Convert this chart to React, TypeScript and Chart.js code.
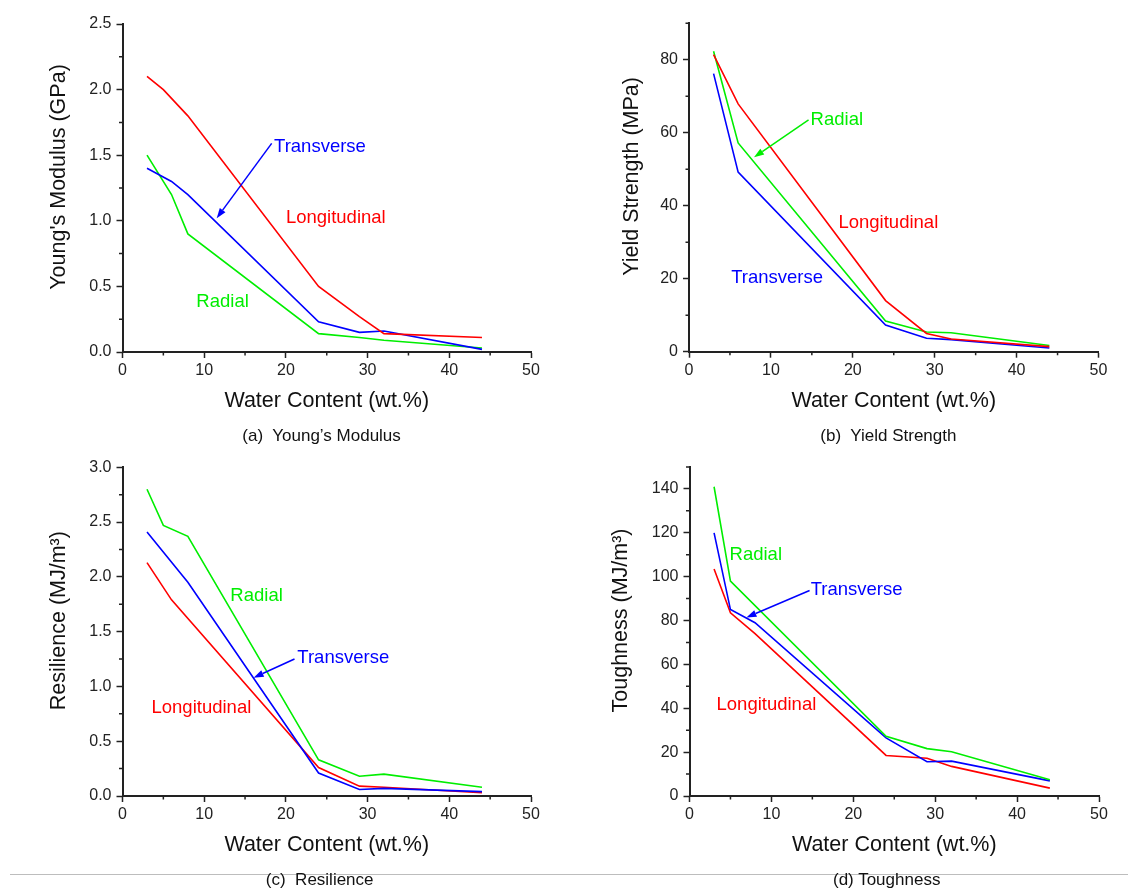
import React, { useEffect, useRef } from 'react';
import { Chart, registerables } from 'chart.js';

Chart.register(...registerables);

const FONT = '"Liberation Sans", Arial, Helvetica, sans-serif';
const RED = '#ff0000';
const BLUE = '#0000ff';
const GREEN = '#00ee00';
const AXIS = '#222222';

// X axis (water content) settings
const xMin = 0;
const xMax = 50;
const xStep = 10;
const xTitle = 'Water Content (wt.%)';

// (a) Young's Modulus (GPa)
const youngLongX = [3, 5, 8, 24, 29, 32, 44];
const youngLongY = [2.1, 2.0, 1.8, 0.5, 0.27, 0.14, 0.11];
const youngTransX = [3, 6, 8, 24, 29, 32, 44];
const youngTransY = [1.4, 1.3, 1.2, 0.23, 0.15, 0.16, 0.02];
const youngRadX = [3, 6, 8, 24, 29, 32, 44];
const youngRadY = [1.5, 1.2, 0.9, 0.14, 0.11, 0.09, 0.03];

// (b) Yield Strength (MPa)
const yieldX = [3, 6, 24, 29, 32, 44];
const yieldLongY = [81.4, 67.9, 14, 5.0, 3.5, 1.4];
const yieldTransY = [76.2, 49.2, 7.3, 3.7, 3.3, 1.0];
const yieldRadY = [82.3, 57.2, 8.4, 5.4, 5.2, 1.7];

// (c) Resilience (MJ/m3)
const resRadX = [3, 5, 8, 24, 29, 32, 44];
const resRadY = [2.8, 2.47, 2.37, 0.33, 0.18, 0.2, 0.08];
const resTransX = [3, 8, 24, 29, 32, 44];
const resTransY = [2.41, 1.95, 0.21, 0.06, 0.07, 0.04];
const resLongX = [3, 6, 24, 29, 32, 44];
const resLongY = [2.13, 1.79, 0.26, 0.09, 0.08, 0.03];

// (d) Toughness (MJ/m3)
const toughRadX = [3, 5, 24, 29, 32, 44];
const toughRadY = [141, 98, 27.2, 21.6, 20.2, 7.4];
const toughTransX = [3, 5, 8, 24, 29, 32, 44];
const toughTransY = [120, 85, 79, 26.5, 15.6, 15.9, 6.9];
const toughLongX = [3, 5, 8, 24, 29, 32, 44];
const toughLongY = [103.5, 83.5, 74, 18.5, 17.2, 13.5, 3.6];

type Series = { x: number[]; y: number[]; color: string };
type Label = { text: string; x: number; y: number; color: string };
type Arrow = { x1: number; y1: number; x2: number; y2: number; color: string };

interface PanelSpec {
  left: number;
  top: number;
  width: number;
  height: number;
  plotLeft: number;
  plotRight: number;
  plotTop: number;
  plotBottom: number;
  yMax: number;
  yStep: number;
  yDecimals: number;
  yTitle: string;
  yTitleOffset: number;
  series: Series[];
  labels: Label[];
  arrows: Arrow[];
}

const panels: PanelSpec[] = [
  {
    left: 0, top: 0, width: 566, height: 444,
    plotLeft: 122.5, plotRight: 531, plotTop: 24, plotBottom: 352,
    yMax: 2.5, yStep: 0.5, yDecimals: 1,
    yTitle: "Young's Modulus (GPa)", yTitleOffset: 63,
    series: [
      { x: youngLongX, y: youngLongY, color: RED },
      { x: youngTransX, y: youngTransY, color: BLUE },
      { x: youngRadX, y: youngRadY, color: GREEN },
    ],
    labels: [
      { text: 'Transverse', x: 18.55, y: 1.56, color: BLUE },
      { text: 'Longitudinal', x: 20.0, y: 1.02, color: RED },
      { text: 'Radial', x: 9.04, y: 0.383, color: GREEN },
    ],
    arrows: [{ x1: 18.26, y1: 1.59, x2: 11.53, y2: 1.02, color: BLUE }],
  },
  {
    left: 566, top: 0, width: 566, height: 444,
    plotLeft: 689, plotRight: 1098.5, plotTop: 23.2, plotBottom: 351.7,
    yMax: 90, yStep: 20, yDecimals: 0,
    yTitle: 'Yield Strength (MPa)', yTitleOffset: 57,
    series: [
      { x: yieldX, y: yieldLongY, color: RED },
      { x: yieldX, y: yieldTransY, color: BLUE },
      { x: yieldX, y: yieldRadY, color: GREEN },
    ],
    labels: [
      { text: 'Radial', x: 14.85, y: 63.5, color: GREEN },
      { text: 'Longitudinal', x: 18.25, y: 35.4, color: RED },
      { text: 'Transverse', x: 5.15, y: 20.3, color: BLUE },
    ],
    arrows: [{ x1: 14.6, y1: 63.5, x2: 7.94, y2: 53.3, color: GREEN }],
  },
  {
    left: 0, top: 444, width: 566, height: 444,
    plotLeft: 122.5, plotRight: 531, plotTop: 467.3, plotBottom: 796,
    yMax: 3.0, yStep: 0.5, yDecimals: 1,
    yTitle: 'Resilience (MJ/m\u00B3)', yTitleOffset: 63,
    series: [
      { x: resRadX, y: resRadY, color: GREEN },
      { x: resTransX, y: resTransY, color: BLUE },
      { x: resLongX, y: resLongY, color: RED },
    ],
    labels: [
      { text: 'Radial', x: 13.2, y: 1.83, color: GREEN },
      { text: 'Transverse', x: 21.4, y: 1.26, color: BLUE },
      { text: 'Longitudinal', x: 3.55, y: 0.8, color: RED },
    ],
    arrows: [{ x1: 21.05, y1: 1.25, x2: 16.05, y2: 1.08, color: BLUE }],
  },
  {
    left: 566, top: 444, width: 566, height: 444,
    plotLeft: 689.5, plotRight: 1099, plotTop: 467, plotBottom: 796,
    yMax: 150, yStep: 20, yDecimals: 0,
    yTitle: 'Toughness (MJ/m\u00B3)', yTitleOffset: 68,
    series: [
      { x: toughRadX, y: toughRadY, color: GREEN },
      { x: toughTransX, y: toughTransY, color: BLUE },
      { x: toughLongX, y: toughLongY, color: RED },
    ],
    labels: [
      { text: 'Radial', x: 4.89, y: 110, color: GREEN },
      { text: 'Transverse', x: 14.79, y: 94, color: BLUE },
      { text: 'Longitudinal', x: 3.3, y: 41.5, color: RED },
    ],
    arrows: [{ x1: 14.66, y1: 93.7, x2: 6.95, y2: 81.4, color: BLUE }],
  },
];

const captions = [
  { text: '(a)\u00A0 Young\u2019s Modulus', cx: 321.6, top: 427 },
  { text: '(b)\u00A0 Yield Strength', cx: 888.4, top: 427 },
  { text: '(c)\u00A0 Resilience', cx: 319.7, top: 871 },
  { text: '(d) Toughness', cx: 886.7, top: 871 },
];

function isMultiple(v: number, step: number) {
  const r = v / step;
  return Math.abs(r - Math.round(r)) < 1e-6;
}

function decorPlugin(spec: PanelSpec) {
  return {
    id: 'decor',
    afterDraw(chart: any) {
      const ctx: CanvasRenderingContext2D = chart.ctx;
      const { left, right, top, bottom } = chart.chartArea;
      const xs = chart.scales.x;
      const ys = chart.scales.y;
      ctx.save();
      // minor ticks
      ctx.strokeStyle = AXIS;
      ctx.lineWidth = 1.5;
      ctx.beginPath();
      for (let v = xStep / 2; v < xMax; v += xStep) {
        const px = xs.getPixelForValue(v);
        ctx.moveTo(px, bottom);
        ctx.lineTo(px, bottom + 3.5);
      }
      for (let v = spec.yStep / 2; v <= spec.yMax + 1e-9; v += spec.yStep) {
        const py = ys.getPixelForValue(v);
        ctx.moveTo(left, py);
        ctx.lineTo(left - 3.5, py);
      }
      ctx.stroke();

      // axis titles
      ctx.fillStyle = '#111111';
      ctx.font = `21.5px ${FONT}`;
      ctx.textAlign = 'center';
      ctx.textBaseline = 'middle';
      ctx.fillText(xTitle, (left + right) / 2, bottom + 49);
      ctx.save();
      ctx.translate(left - spec.yTitleOffset, (top + bottom) / 2 - 11);
      ctx.rotate(-Math.PI / 2);
      ctx.fillText(spec.yTitle, 0, 0);
      ctx.restore();

      // annotation labels
      ctx.font = `18.5px ${FONT}`;
      ctx.textAlign = 'left';
      ctx.textBaseline = 'middle';
      for (const l of spec.labels) {
        ctx.fillStyle = l.color;
        ctx.fillText(l.text, xs.getPixelForValue(l.x), ys.getPixelForValue(l.y));
      }

      // arrows
      for (const a of spec.arrows) {
        const x1 = xs.getPixelForValue(a.x1);
        const y1 = ys.getPixelForValue(a.y1);
        const x2 = xs.getPixelForValue(a.x2);
        const y2 = ys.getPixelForValue(a.y2);
        const ang = Math.atan2(y2 - y1, x2 - x1);
        const hl = 10;
        const hw = 3.5;
        const bx = x2 - hl * Math.cos(ang);
        const by = y2 - hl * Math.sin(ang);
        ctx.strokeStyle = a.color;
        ctx.fillStyle = a.color;
        ctx.lineWidth = 1.5;
        ctx.beginPath();
        ctx.moveTo(x1, y1);
        ctx.lineTo(bx, by);
        ctx.stroke();
        ctx.beginPath();
        ctx.moveTo(x2, y2);
        ctx.lineTo(bx + hw * Math.sin(ang), by - hw * Math.cos(ang));
        ctx.lineTo(bx - hw * Math.sin(ang), by + hw * Math.cos(ang));
        ctx.closePath();
        ctx.fill();
      }
      ctx.restore();
    },
  };
}

function Panel({ spec }: { spec: PanelSpec }) {
  const ref = useRef<HTMLCanvasElement | null>(null);
  useEffect(() => {
    if (!ref.current) return;
    const xAxisH = 60;
    const chart = new Chart(ref.current, {
      type: 'line',
      data: {
        datasets: spec.series.map((s) => ({
          data: s.x.map((x, i) => ({ x, y: s.y[i] })),
          borderColor: s.color,
          backgroundColor: s.color,
          borderWidth: 1.6,
          pointRadius: 0,
          fill: false,
          tension: 0,
        })),
      },
      options: {
        animation: false,
        responsive: false,
        maintainAspectRatio: false,
        events: [],
        layout: {
          padding: {
            left: 0,
            top: spec.plotTop - spec.top,
            right: spec.left + spec.width - spec.plotRight,
            bottom: spec.top + spec.height - spec.plotBottom - xAxisH,
          },
        },
        plugins: {
          legend: { display: false },
          tooltip: { enabled: false },
          title: { display: false },
        },
        scales: {
          x: {
            type: 'linear',
            position: 'bottom',
            min: xMin,
            max: xMax,
            ticks: {
              stepSize: xStep,
              color: AXIS,
              font: { family: FONT, size: 16 },
              padding: 3,
              maxRotation: 0,
              autoSkip: false,
            },
            grid: {
              display: true,
              drawOnChartArea: false,
              drawTicks: true,
              tickLength: 6,
              tickColor: AXIS,
              tickWidth: 1.5,
            },
            border: { display: true, color: AXIS, width: 2 },
            afterFit: (s: any) => {
              s.height = xAxisH;
            },
          },
          y: {
            type: 'linear',
            position: 'left',
            min: 0,
            max: spec.yMax,
            ticks: {
              stepSize: spec.yStep,
              color: AXIS,
              font: { family: FONT, size: 16 },
              padding: 5,
              autoSkip: false,
              callback: (v: any) =>
                isMultiple(Number(v), spec.yStep) ? Number(v).toFixed(spec.yDecimals) : '',
            },
            grid: {
              display: true,
              drawOnChartArea: false,
              drawTicks: true,
              tickLength: 6,
              tickColor: (c: any) =>
                c.tick && isMultiple(Number(c.tick.value), spec.yStep) ? AXIS : 'rgba(0,0,0,0)',
              tickWidth: 1.5,
            },
            border: { display: true, color: AXIS, width: 2 },
            afterFit: (s: any) => {
              s.width = spec.plotLeft - spec.left;
            },
          },
        },
      } as any,
      plugins: [decorPlugin(spec)],
    });
    return () => chart.destroy();
  }, [spec]);
  return (
    <canvas
      ref={ref}
      width={spec.width}
      height={spec.height}
      style={{
        position: 'absolute',
        left: spec.left,
        top: spec.top,
        width: spec.width,
        height: spec.height,
      }}
    />
  );
}

export default function App() {
  return (
    <div
      style={{
        position: 'absolute',
        left: 0,
        top: 0,
        width: 1132,
        height: 888,
        background: '#ffffff',
        overflow: 'hidden',
      }}
    >
      <div
        style={{
          position: 'absolute',
          left: 10,
          top: 874,
          width: 1118,
          height: 1,
          background: '#bdbdbd',
        }}
      />
      {panels.map((p, i) => (
        <Panel key={i} spec={p} />
      ))}
      {captions.map((c, i) => (
        <div
          key={'c' + i}
          style={{
            position: 'absolute',
            left: c.cx,
            top: c.top,
            transform: 'translateX(-50%)',
            whiteSpace: 'nowrap',
            fontFamily: FONT,
            fontSize: 17,
            lineHeight: '17px',
            color: '#111111',
          }}
        >
          {c.text}
        </div>
      ))}
    </div>
  );
}
